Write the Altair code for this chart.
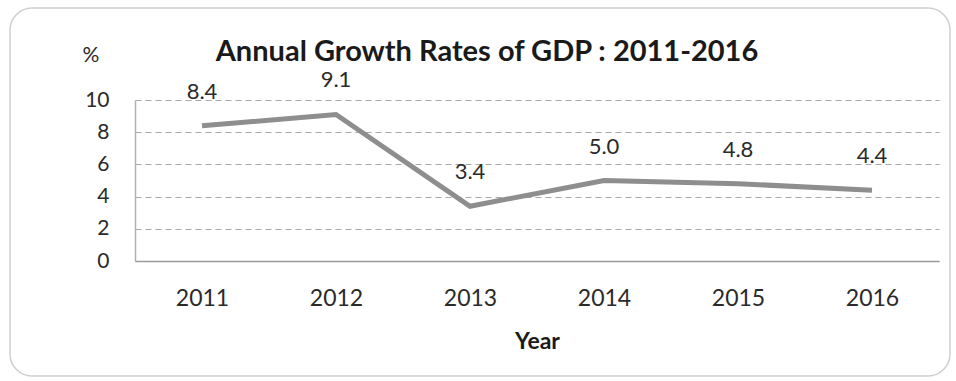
import altair as alt
import pandas as pd

years = ["2011", "2012", "2013", "2014", "2015", "2016"]
growth = [8.4, 9.1, 3.4, 5.0, 4.8, 4.4]
y_ticks = [0, 2, 4, 6, 8, 10]

df = pd.DataFrame({"Year": years, "Growth": growth})

FONT = "Lato"
W, H = 804, 161

x_enc = alt.X(
    "Year:N",
    sort=years,
    axis=alt.Axis(
        title="Year",
        labelAngle=0,
        labelFontSize=23,
        labelColor="#2a2a2a",
        labelPadding=26,
        ticks=False,
        domainColor="#9a9a9a",
        domainWidth=1.5,
        titleFontSize=23,
        titleFontWeight="bold",
        titleColor="#1a1a1a",
        titlePadding=20,
        grid=False,
    ),
)
y_enc = alt.Y(
    "Growth:Q",
    scale=alt.Scale(domain=[0, 10], nice=False),
    axis=alt.Axis(
        values=y_ticks,
        title="%",
        titleAngle=0,
        titleAlign="left",
        titleBaseline="bottom",
        titleX=-53,
        titleY=-35,
        titleFontSize=21,
        titleFontWeight="normal",
        titleColor="#2a2a2a",
        labelFontSize=21,
        labelColor="#2a2a2a",
        labelPadding=26,
        ticks=False,
        domainColor="#b0b0b0",
        domainWidth=1.5,
        grid=True,
        gridColor="#a8a8a8",
        gridDash=[6, 4],
        gridWidth=1.2,
    ),
)

base = alt.Chart(df).encode(x=x_enc, y=y_enc)
line = base.mark_line(color="#8e8e8e", strokeWidth=5)
labels = base.mark_text(
    dy=-22, baseline="bottom", fontSize=22, color="#2a2a2a", font=FONT
).encode(text=alt.Text("Growth:Q", format=".1f"))

frame = alt.Chart(pd.DataFrame({"f": [0]})).mark_rect(
    fill=None, stroke="#cfcfcf", strokeWidth=1.5, cornerRadius=22
).encode(
    x=alt.value(-125), x2=alt.value(815), y=alt.value(-92), y2=alt.value(276)
)

chart = (
    alt.layer(frame, line, labels)
    .properties(
        width=W,
        height=H,
        title=alt.TitleParams(
            "Annual Growth Rates of GDP : 2011-2016",
            fontSize=29,
            fontWeight="bold",
            font=FONT,
            color="#1a1a1a",
            anchor="middle",
            dx=-50,
            offset=-60,
        ),
        autosize=alt.AutoSizeParams(type="none"),
        padding={"left": 135, "top": 100, "right": 17, "bottom": 120},
        background="white",
    )
    .configure(font=FONT)
    .configure_view(stroke=None)
    .configure_axis(labelFont=FONT, titleFont=FONT)
)

chart.save("out.html", embed_options={"renderer": "svg", "actions": False})
